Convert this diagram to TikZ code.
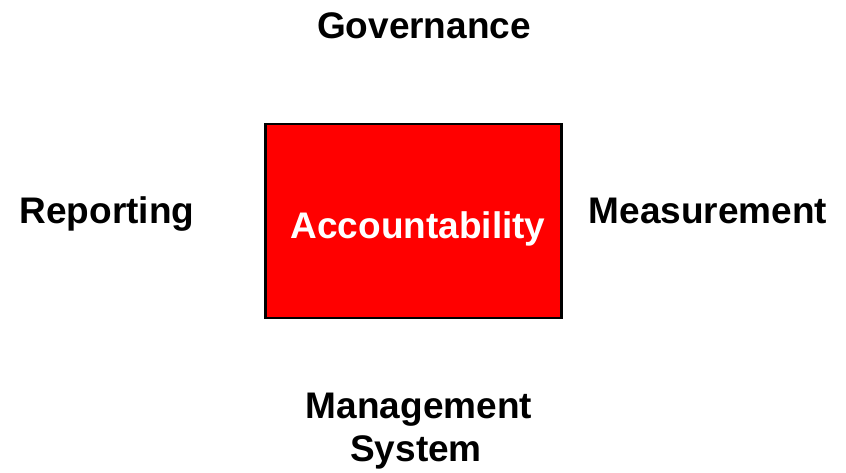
\documentclass[tikz,border=0pt]{standalone}
\usepackage{fontspec}
\setmainfont{Liberation Sans}
\begin{document}
\begin{tikzpicture}[x=1pt,y=-1pt,
  label/.style={font=\fontsize{37}{40}\selectfont\bfseries, inner sep=0pt, anchor=base, align=center},
  core/.style={draw=black, line width=2.5pt, fill=red, inner sep=0pt}]
  \useasboundingbox (0,0) rectangle (846,472);
  % central box
  \node[core, minimum width=296pt, minimum height=194pt] (acc) at (413.5,221) {};
  \node[label, text=white] (acct) at (418,238) {Accountability};
  % surrounding labels
  \node[label] (gov) at (424,38) {Governance};
  \node[label] (rep) at (107,223) {Reporting};
  \node[label] (mea) at (708,223) {Measurement};
  \node[label] (mgmt) at (419,418) {Management};
  \node[label] (sys) at (416,461) {System};
\end{tikzpicture}
\end{document}
